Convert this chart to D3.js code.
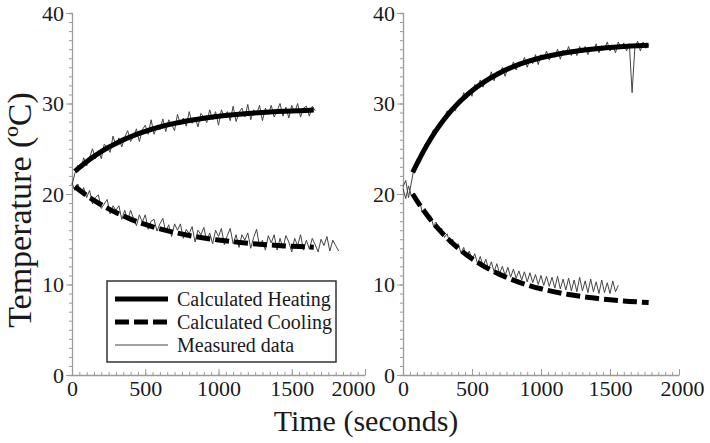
<!DOCTYPE html>
<html>
<head>
<meta charset="utf-8">
<script src="https://cdn.jsdelivr.net/npm/d3@7"></script>
<style>
  body { margin: 0; background: #fff; }
  svg { display: block; }
  text { font-family: "Liberation Serif", "Times New Roman", serif; fill: #1a1a1a; }
</style>
</head>
<body>
<svg id="chart" width="710" height="443"></svg>
<script>
// ---- axis ticks ----
const yTicks = [0, 10, 20, 30, 40];
const xTicks = [0, 500, 1000, 1500, 2000];
const sampleStep = 20; // seconds between logged readings

// ---- calculated model curves (time s, temperature °C) ----
const calcTimesLeft = [20, 50, 100, 150, 200, 250, 300, 350, 400, 450, 500, 600, 700, 800, 900, 1000, 1100, 1200, 1300, 1400, 1500, 1600, 1650];
const calcHeatLeft = [22.50, 22.92, 23.57, 24.16, 24.69, 25.16, 25.59, 25.98, 26.33, 26.64, 26.92, 27.41, 27.80, 28.12, 28.38, 28.59, 28.76, 28.90, 29.01, 29.11, 29.18, 29.24, 29.27];
const calcCoolLeft = [20.83, 20.44, 19.84, 19.30, 18.81, 18.36, 17.95, 17.57, 17.23, 16.92, 16.64, 16.15, 15.75, 15.41, 15.14, 14.91, 14.72, 14.56, 14.43, 14.32, 14.23, 14.16, 14.12];

const calcTimesRight = [70, 100, 150, 200, 250, 300, 350, 400, 450, 500, 600, 700, 800, 900, 1000, 1100, 1200, 1300, 1400, 1500, 1600, 1700, 1780];
const calcHeatRight = [22.40, 23.30, 24.77, 26.08, 27.25, 28.28, 29.21, 30.03, 30.76, 31.41, 32.51, 33.38, 34.07, 34.62, 35.05, 35.39, 35.66, 35.88, 36.05, 36.18, 36.29, 36.38, 36.43];
const calcCoolRight = [20.00, 19.28, 18.17, 17.16, 16.25, 15.43, 14.68, 14.01, 13.40, 12.85, 11.90, 11.12, 10.48, 9.96, 9.53, 9.18, 8.89, 8.66, 8.47, 8.31, 8.18, 8.08, 8.01];

// ---- measured readings, one every sampleStep seconds from t = 0 ----
const measHeatLeft = [
  21.0, 22.3, 23.2, 22.8, 24.0, 23.1, 24.0, 25.0, 23.9, 24.8,
  23.9, 25.5, 25.2, 24.6, 26.4, 25.3, 26.2, 25.2, 26.3, 27.0,
  25.8, 26.4, 27.2, 25.8, 27.1, 27.6, 26.6, 28.2, 26.6, 27.5,
  27.1, 28.3, 26.9, 28.2, 27.7, 27.0, 28.8, 27.7, 28.4, 27.5,
  29.1, 27.8, 28.5, 27.4, 28.9, 28.5, 27.9, 29.3, 28.2, 29.1,
  27.6, 29.3, 28.5, 29.1, 28.1, 29.7, 28.0, 29.0, 29.5, 28.5,
  29.9, 28.2, 29.3, 28.8, 29.8, 28.1, 29.5, 28.8, 29.8, 28.5,
  29.2, 30.0, 28.6, 29.6, 28.4, 29.8, 29.0, 30.0, 28.5, 29.5,
  29.7, 28.6, 29.7, 29.2
];
const measCoolLeft = [
  21.2, 20.4, 21.1, 20.0, 20.7, 19.6, 20.4, 18.9, 19.6, 19.9,
  18.4, 18.9, 19.4, 17.8, 18.7, 18.2, 18.7, 17.2, 18.2, 17.1,
  18.2, 17.3, 16.5, 17.7, 16.9, 17.7, 16.1, 17.0, 17.2, 15.9,
  16.7, 17.3, 15.8, 16.6, 15.3, 16.7, 16.0, 16.7, 15.1, 16.1,
  15.6, 16.4, 14.7, 16.0, 15.5, 16.3, 14.8, 15.7, 14.5, 16.0,
  15.3, 16.2, 14.4, 15.4, 16.2, 14.5, 15.5, 14.1, 15.5, 14.9,
  15.7, 14.0, 15.2, 16.1, 14.2, 14.9, 13.8, 15.4, 14.6, 15.5,
  13.8, 15.1, 14.0, 15.4, 14.7, 13.6, 15.1, 14.3, 15.5, 13.8,
  14.9, 13.9, 15.1, 14.4, 13.6, 15.0, 14.3, 15.3, 13.7, 14.9,
  14.3, 13.7
];
const measHeatRight = [
  20.8, 21.5, 19.6, 21.2, 22.9, 23.1, 24.2, 24.4, 25.5, 25.3,
  26.3, 27.1, 26.8, 27.8, 27.5, 28.5, 29.2, 28.7, 29.5, 29.2,
  30.4, 30.1, 31.2, 30.5, 31.4, 30.8, 32.1, 31.8, 32.6, 31.8,
  32.7, 32.4, 33.5, 32.5, 33.5, 33.2, 34.0, 33.0, 34.0, 33.7,
  34.6, 33.7, 34.6, 34.2, 35.1, 34.0, 34.9, 34.4, 35.4, 34.3,
  35.4, 34.9, 35.8, 34.8, 35.5, 35.1, 36.0, 34.9, 35.9, 35.4,
  36.3, 35.3, 36.0, 35.3, 36.3, 35.6, 36.3, 35.4, 36.2, 35.8,
  36.6, 35.6, 36.4, 36.0, 36.8, 35.8, 36.4, 35.6, 36.8, 36.1,
  36.7, 35.8, 36.6, 31.2, 36.1, 36.9, 35.8, 36.8, 36.1, 36.5
];
const measCoolRight = [
  20.6, 19.5, 20.9, 19.8, 20.1, 19.0, 19.2, 18.0, 18.4, 17.3,
  17.6, 16.5, 16.9, 15.8, 16.2, 15.2, 15.6, 14.5, 15.0, 14.0,
  14.5, 13.5, 14.1, 13.0, 13.7, 12.7, 13.4, 12.3, 13.1, 12.0,
  12.8, 11.7, 12.5, 11.4, 12.3, 11.2, 12.0, 11.0, 11.9, 10.8,
  11.7, 10.7, 11.5, 10.5, 11.4, 10.3, 11.3, 10.2, 11.1, 10.0,
  11.0, 9.9, 10.9, 9.8, 10.8, 9.6, 10.9, 9.5, 10.6, 9.4,
  10.7, 9.3, 10.5, 9.2, 10.8, 9.3, 10.4, 9.1, 10.6, 9.2,
  10.3, 9.0, 10.5, 9.1, 10.2, 9.0, 10.4, 9.2, 9.9
];

// ---- legend entries ----
const legendLabels = ["Calculated Heating", "Calculated Cooling", "Measured data"];

// ---- layout ----
const svg = d3.select("#chart");
const yScale = d3.scaleLinear().domain([0, 40]).range([375, 13]);
const panels = [
  { x: d3.scaleLinear().domain([0, 2000]).range([72, 365]),
    heat: calcHeatLeft, cool: calcCoolLeft, times: calcTimesLeft,
    mHeat: measHeatLeft, mCool: measCoolLeft, lastLabelShift: -12 },
  { x: d3.scaleLinear().domain([0, 2000]).range([403, 679]),
    heat: calcHeatRight, cool: calcCoolRight, times: calcTimesRight,
    mHeat: measHeatRight, mCool: measCoolRight, lastLabelShift: 3 }
];

const axisColor = "#9a9a9a";

function styleAxis(g) {
  g.selectAll("path.domain").attr("stroke", axisColor).attr("stroke-width", 1.3);
  g.selectAll(".tick line").attr("stroke", axisColor).attr("stroke-width", 1);
  g.selectAll(".tick text")
    .attr("font-family", '"Liberation Serif", "Times New Roman", serif')
    .attr("font-size", 22).attr("fill", "#1a1a1a");
}

panels.forEach(p => {
  const x = p.x;
  const x0 = x.range()[0];

  // minor y ticks (every 1 °C)
  const gyMinor = svg.append("g").attr("transform", `translate(${x0},0)`)
    .call(d3.axisLeft(yScale).tickValues(d3.range(0, 41, 1)).tickSize(3).tickFormat(""));
  styleAxis(gyMinor);
  // major y ticks
  const gy = svg.append("g").attr("transform", `translate(${x0},0)`)
    .call(d3.axisLeft(yScale).tickValues(yTicks).tickSize(6).tickPadding(2).tickFormat(d3.format("d")));
  styleAxis(gy);
  gy.select("path.domain").remove();

  // minor x ticks (every 50 s), pointing into the plot
  const gxMinor = svg.append("g").attr("transform", `translate(0,${yScale(0)})`)
    .call(d3.axisBottom(x).tickValues(d3.range(0, 2001, 50)).tickSizeInner(-3).tickSizeOuter(0).tickFormat(""));
  styleAxis(gxMinor);
  const gx = svg.append("g").attr("transform", `translate(0,${yScale(0)})`)
    .call(d3.axisBottom(x).tickValues(xTicks).tickSizeInner(-6).tickSizeOuter(0).tickPadding(5).tickFormat(d3.format("d")));
  styleAxis(gx);
  gx.select("path.domain").remove();
  gx.selectAll(".tick text").filter(d => d === 2000).attr("dx", p.lastLabelShift);

  // measured traces
  const measLine = d3.line().x((d, i) => x(i * sampleStep)).y(d => yScale(d));
  [p.mHeat, p.mCool].forEach(series => {
    svg.append("path").datum(series)
      .attr("d", measLine)
      .attr("fill", "none").attr("stroke", "#444").attr("stroke-width", 1)
      .attr("stroke-linejoin", "round");
  });

  // calculated curves
  const calcLine = d3.line().curve(d3.curveMonotoneX)
    .x((d, i) => x(p.times[i])).y(d => yScale(d));
  svg.append("path").datum(p.heat).attr("d", calcLine)
    .attr("fill", "none").attr("stroke", "#000").attr("stroke-width", 5)
    .attr("stroke-linecap", "butt");
  svg.append("path").datum(p.cool).attr("d", calcLine)
    .attr("fill", "none").attr("stroke", "#000").attr("stroke-width", 5)
    .attr("stroke-dasharray", "14,5");
});

// ---- axis titles ----
svg.append("text").attr("x", 366).attr("y", 431).attr("text-anchor", "middle")
  .attr("font-size", 30).text("Time (seconds)");
svg.append("text").attr("transform", "translate(31,210) rotate(-90)")
  .attr("text-anchor", "middle").attr("font-size", 34).text("Temperature (ºC)");

// ---- legend ----
const lg = svg.append("g");
lg.append("rect").attr("x", 107).attr("y", 281).attr("width", 229).attr("height", 81)
  .attr("fill", "#fff").attr("stroke", "#333").attr("stroke-width", 1.5);
const legendStyles = [
  { w: 5, dash: null, c: "#000" },
  { w: 5, dash: "14,5", c: "#000" },
  { w: 1, dash: null, c: "#444" }
];
legendLabels.forEach((lab, i) => {
  const ly = 299 + i * 23;
  lg.append("line").attr("x1", 115).attr("x2", 168).attr("y1", ly).attr("y2", ly)
    .attr("stroke", legendStyles[i].c).attr("stroke-width", legendStyles[i].w)
    .attr("stroke-dasharray", legendStyles[i].dash);
  lg.append("text").attr("x", 177).attr("y", ly + 7).attr("font-size", 20).text(lab);
});
</script>
</body>
</html>
